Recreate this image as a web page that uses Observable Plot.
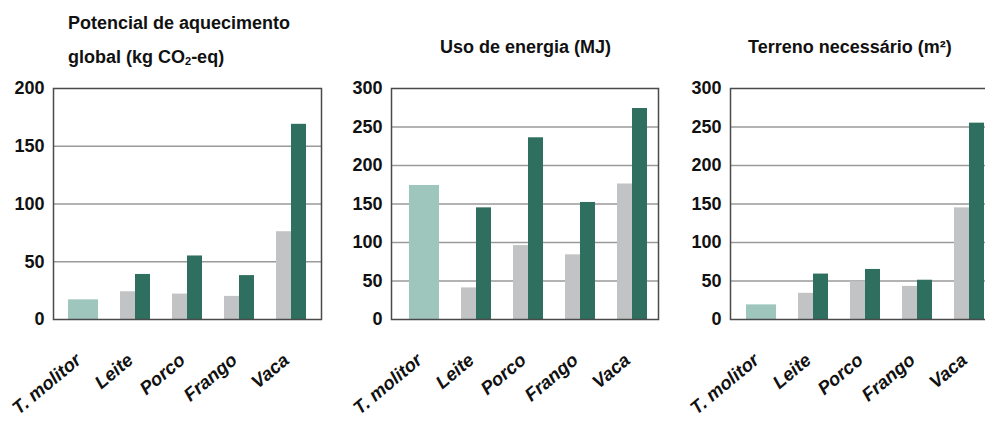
<!DOCTYPE html>
<html><head><meta charset="utf-8">
<script src="https://cdn.jsdelivr.net/npm/d3@7"></script>
<script src="https://cdn.jsdelivr.net/npm/@observablehq/plot@0.6"></script>
<style>
html,body{margin:0;padding:0;background:#fff;}
#wrap{position:relative;width:985px;height:421px;overflow:hidden;font-family:"Liberation Sans",Arial,sans-serif;}
.panel{position:absolute;top:0;}
.title{position:absolute;font-weight:bold;font-size:18px;line-height:34px;color:#111;white-space:nowrap;font-family:"Liberation Sans",Arial,sans-serif;}
.title sub{font-size:11px;vertical-align:-2px;line-height:0;}
</style></head><body><div id="wrap"></div>
<script>
// Categories (x axis)
const categories = ["T. molitor", "Leite", "Porco", "Frango", "Vaca"];
const animals = ["Leite", "Porco", "Frango", "Vaca"];

// Panel 1: Potencial de aquecimento global (kg CO2-eq)
const gwpInsect = 17;
const gwpLow = [24, 22, 20, 76];
const gwpHigh = [39, 55, 38, 169];
const gwpTicks = [0, 50, 100, 150, 200];

// Panel 2: Uso de energia (MJ)
const energyInsect = 174;
const energyLow = [41, 96, 84, 176];
const energyHigh = [145, 236, 152, 274];
const energyTicks = [0, 50, 100, 150, 200, 250, 300];

// Panel 3: Terreno necessário (m²)
const landInsect = 19;
const landLow = [34, 49, 43, 145];
const landHigh = [59, 65, 51, 255];
const landTicks = [0, 50, 100, 150, 200, 250, 300];

const colorInsect = "#9ec6bd";
const colorLow = "#c2c3c5";
const colorHigh = "#2e6f5f";

function panel({left, width, marginLeft, frameWidth, ticks, paddingOuter, align, insect, low, high}) {
  const insectData = [{cat: categories[0], value: insect}];
  const lowData = animals.map((c, i) => ({cat: c, value: low[i]}));
  const highData = animals.map((c, i) => ({cat: c, value: high[i]}));
  const top = ticks[ticks.length - 1];
  const chart = Plot.plot({
    width, height: 421,
    marginTop: 88, marginBottom: 102,
    marginLeft, marginRight: width - marginLeft - frameWidth,
    style: {background: "transparent", maxWidth: "none", overflow: "visible", fontFamily: "'Liberation Sans', Arial, sans-serif", color: "#111"},
    x: {domain: categories, paddingInner: 0.43, paddingOuter, align, label: null},
    y: {domain: [0, top], label: null},
    marks: [
      Plot.gridY(ticks.filter(t => t > 0 && t < top), {stroke: "#9a9a9a", strokeOpacity: 1, strokeWidth: 1.5}),
      Plot.barY(insectData, {x: "cat", y: "value", fill: colorInsect}),
      Plot.barY(lowData, {x: "cat", y: "value", fill: colorLow, insetRight: 15}),
      Plot.barY(highData, {x: "cat", y: "value", fill: colorHigh, insetLeft: 15}),
      Plot.frame({stroke: "#4a4a4a", strokeWidth: 1.5}),
      Plot.axisY({ticks, tickSize: 0, tickPadding: 9, fontSize: 18, fontWeight: "bold", label: null}),
      Plot.axisX({tickSize: 0, tickPadding: 38, dx: -5, tickRotate: -40, fontSize: 18.5, fontWeight: "bold", fontStyle: "italic", label: null})
    ]
  });
  const div = document.createElement("div");
  div.className = "panel";
  div.style.left = left + "px";
  div.appendChild(chart);
  document.getElementById("wrap").appendChild(div);
}

panel({left: 0, width: 326, marginLeft: 53, frameWidth: 268, ticks: gwpTicks, paddingOuter: 0.26, align: 0.5, insect: gwpInsect, low: gwpLow, high: gwpHigh});
panel({left: 330, width: 332, marginLeft: 61, frameWidth: 267, ticks: energyTicks, paddingOuter: 0.255, align: 0.6, insect: energyInsect, low: energyLow, high: energyHigh});
panel({left: 660, width: 345, marginLeft: 70, frameWidth: 270, ticks: landTicks, paddingOuter: 0.28, align: 0.5, insect: landInsect, low: landLow, high: landHigh});

function title(html, left, top) {
  const d = document.createElement("div");
  d.className = "title";
  d.style.left = left + "px";
  d.style.top = top + "px";
  d.innerHTML = html;
  document.getElementById("wrap").appendChild(d);
}
title("Potencial de aquecimento<br>global (kg CO<sub>2</sub>-eq)", 68, 6);
title("Uso de energia (MJ)", 440, 30);
title("Terreno necessário (m²)", 748, 30);
</script>
</body></html>
